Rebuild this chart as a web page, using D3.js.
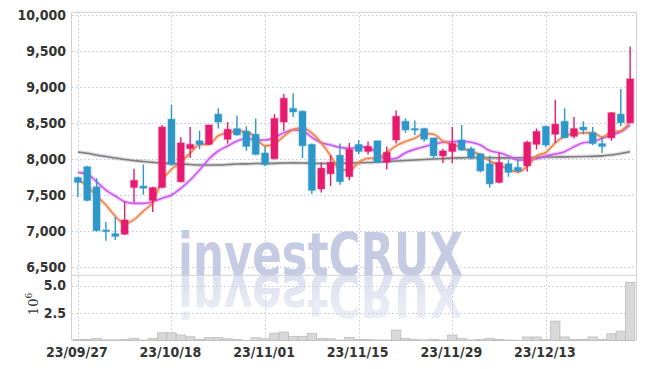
<!DOCTYPE html>
<html>
<head>
<meta charset="utf-8">
<script src="https://cdn.jsdelivr.net/npm/d3@7"></script>
<style>
  html, body { margin: 0; padding: 0; background: #fff; }
  svg { display: block; }
  .tick-label { font-family: "Liberation Sans Narrow", "DejaVu Sans Condensed", "Roboto", sans-serif; font-weight: bold; fill: #333; font-size: 14px; }
</style>
</head>
<body>
<div id="chart"></div>
<script>
const dates = [
  '23/09/27','23/10/04','23/10/05','23/10/06','23/10/10','23/10/11','23/10/12','23/10/13','23/10/16','23/10/17',
  '23/10/18','23/10/19','23/10/20','23/10/23','23/10/24','23/10/25','23/10/26','23/10/27','23/10/30','23/10/31',
  '23/11/01','23/11/02','23/11/03','23/11/06','23/11/07','23/11/08','23/11/09','23/11/10','23/11/13','23/11/14',
  '23/11/15','23/11/16','23/11/17','23/11/20','23/11/21','23/11/22','23/11/23','23/11/24','23/11/27','23/11/28',
  '23/11/29','23/11/30','23/12/01','23/12/04','23/12/05','23/12/06','23/12/07','23/12/08','23/12/11','23/12/12',
  '23/12/13','23/12/14','23/12/15','23/12/18','23/12/19','23/12/20','23/12/21','23/12/22','23/12/26','23/12/27'
];
const tickDates = ['23/09/27','23/10/18','23/11/01','23/11/15','23/11/29','23/12/13'];

const open = [
  7740,7890,7610,7010,6960,6950,7600,7620,7420,7600,
  8550,7680,8140,8250,8200,8620,8270,8420,8380,8340,
  8080,8000,8510,8700,8660,8200,7580,7790,8050,7750,
  8200,8100,8250,7950,8260,8520,8420,8420,8290,8040,
  8100,8260,8140,8070,7930,7670,7930,7880,7900,8200,
  8450,8340,8520,8310,8440,8360,8210,8290,8620,8500
];
const high = [
  7750,7900,7730,7120,7190,7400,7860,7920,7610,8470,
  8750,8300,8440,8390,8470,8700,8510,8600,8450,8560,
  8170,8620,8900,8910,8670,8210,7950,8050,8210,8220,
  8260,8240,8250,8170,8670,8560,8530,8430,8290,8140,
  8440,8470,8170,8070,8040,8080,7980,7990,8250,8420,
  8460,8820,8700,8580,8520,8440,8300,8650,8970,9560
];
const low = [
  7470,7410,6990,6860,6870,6940,7390,7500,7260,7590,
  7900,7670,8010,8130,8190,8420,8210,8320,8110,8050,
  7900,7990,8390,8580,8010,7510,7530,7620,7640,7700,
  8060,8060,7940,7850,8210,8360,8330,8240,8010,7940,
  7940,8110,7990,7810,7600,7660,7750,7800,7820,8130,
  8160,8220,8290,8280,8340,8190,8080,8250,8450,8490
];
const close = [
  7670,7420,7000,7000,6920,7150,7700,7590,7600,8440,
  7920,8220,8200,8200,8470,8510,8410,8330,8170,8060,
  7920,8560,8840,8650,8180,7560,7870,7950,7680,8130,
  8100,8170,7950,8090,8590,8400,8400,8270,8040,8110,
  8210,8120,8020,7830,7650,7950,7810,7830,8230,8380,
  8190,8480,8290,8420,8400,8210,8170,8640,8500,9110
];
// moving averages
const ma5 = [
  7711,7621,7482,7357,7201,7097,7154,7273,7393,7697,
  7852,7954,8077,8196,8202,8319,8358,8383,8377,8295,
  8178,8208,8310,8407,8431,8358,8220,8043,7849,7838,
  7947,8007,8005,8087,8179,8240,8286,8352,8341,8244,
  8206,8151,8100,8059,7968,7915,7853,7815,7894,8039,
  8087,8221,8313,8352,8358,8363,8300,8370,8386,8526
];
const ma20 = [
  7811,7788,7681,7565,7482,7403,7380,7380,7403,7450,
  7496,7589,7704,7843,7996,8107,8176,8246,8281,8260,
  8260,8297,8361,8399,8389,8297,8222,8190,8158,8144,
  8158,8167,8065,7992,8006,8083,8130,8167,8200,8228,
  8236,8241,8228,8190,8111,8083,8038,7982,7982,8000,
  8038,8065,8097,8167,8222,8236,8283,8329,8375,8468
];
const ma60 = [
  8093,8075,8051,8031,8010,7989,7975,7961,7950,7940,
  7933,7926,7919,7912,7912,7912,7919,7926,7929,7933,
  7933,7936,7940,7943,7940,7936,7933,7933,7936,7940,
  7943,7947,7954,7961,7968,7975,7982,7989,7996,8003,
  8010,8012,8014,8014,8014,8012,8012,8014,8017,8019,
  8024,8024,8026,8028,8031,8033,8040,8051,8072,8097
];
// volume, millions of shares
const volume = [
  0.15,0.15,0.24,0.10,0.10,0.15,0.24,0.08,0.24,0.74,
  0.74,0.54,0.38,0.15,0.30,0.30,0.20,0.12,0.06,0.30,
  0.20,0.71,0.80,0.42,0.42,0.69,0.24,0.20,0.09,0.33,
  0.15,0.12,0.09,0.09,0.98,0.24,0.12,0.09,0.15,0.09,
  0.54,0.24,0.09,0.15,0.24,0.15,0.09,0.06,0.36,0.36,
  0.15,1.79,0.36,0.15,0.15,0.36,0.15,0.65,0.89,5.27
];
const priceTicks = [6500, 7000, 7500, 8000, 8500, 9000, 9500, 10000];
const volTicks = [2.5, 5.0];

const W = 645, H = 369;
const plotL = 72, plotR = 636, plotT = 12.3, split = 275.3, plotB = 340.5;
const UP = '#e61b6e', DOWN = '#2e97c9';
const GRID = '#c4c7dc';

const svg = d3.select('#chart').append('svg').attr('width', W).attr('height', H);

const x = d3.scaleBand().domain(dates).range([plotL, plotR]).padding(0.25);
const cx = d => x(d) + x.bandwidth() / 2;
const y = d3.scaleLinear().domain([6380, 10035]).range([split, plotT]);
const yv = d3.scaleLinear().domain([0, 5.92]).range([341, split]);

// ── Grid ────────────────────────────────────────────────────────────────
const grid = svg.append('g').attr('stroke', GRID).attr('stroke-dasharray', '1.5,2.5').attr('stroke-width', 1);
priceTicks.forEach(t => grid.append('line')
  .attr('x1', plotL).attr('x2', plotR).attr('y1', Math.round(y(t)) + 0.5).attr('y2', Math.round(y(t)) + 0.5));
volTicks.forEach(t => grid.append('line')
  .attr('x1', plotL).attr('x2', plotR).attr('y1', Math.round(yv(t)) + 0.5).attr('y2', Math.round(yv(t)) + 0.5));
tickDates.forEach(d => grid.append('line')
  .attr('x1', Math.round(cx(d)) + 0.5).attr('x2', Math.round(cx(d)) + 0.5).attr('y1', plotT).attr('y2', plotB));

// ── Watermark + mirrored reflection (reuses the same text node) ─────────
const defs = svg.append('defs');
const grad = defs.append('linearGradient').attr('id', 'reflGrad')
  .attr('gradientUnits', 'userSpaceOnUse').attr('x1', 0).attr('y1', split).attr('x2', 0).attr('y2', split + 46);
grad.append('stop').attr('offset', '0%').attr('stop-color', '#fff').attr('stop-opacity', 0.6);
grad.append('stop').attr('offset', '100%').attr('stop-color', '#fff').attr('stop-opacity', 0.3);
defs.append('mask').attr('id', 'reflMask').attr('maskUnits', 'userSpaceOnUse')
  .attr('x', 0).attr('y', split).attr('width', W).attr('height', 60)
  .append('rect').attr('x', 0).attr('y', split).attr('width', W).attr('height', 60).attr('fill', 'url(#reflGrad)');

svg.append('text').attr('id', 'wmark')
  .attr('x', 178).attr('y', split).attr('textLength', 285).attr('lengthAdjust', 'spacingAndGlyphs')
  .attr('font-family', '"Liberation Sans Narrow", "DejaVu Sans Condensed", sans-serif')
  .attr('font-weight', 'bold').attr('font-size', 58)
  .attr('fill', '#c6cbe4').text('investCRUX');
svg.append('g').attr('mask', 'url(#reflMask)')
  .append('use').attr('href', '#wmark')
  .attr('transform', `translate(0,${2 * split}) scale(1,-1)`);

// ── Frame ───────────────────────────────────────────────────────────────
const frame = svg.append('g').attr('stroke', '#cfcfd6').attr('stroke-width', 1).attr('fill', 'none');
frame.append('line').attr('x1', plotL - 0.5).attr('x2', plotL - 0.5).attr('y1', plotT).attr('y2', plotB);
frame.append('line').attr('x1', plotR + 0.5).attr('x2', plotR + 0.5).attr('y1', plotT).attr('y2', plotB);
frame.append('line').attr('x1', plotL).attr('x2', plotR).attr('y1', plotT).attr('y2', plotT);
frame.append('line').attr('x1', plotL).attr('x2', plotR).attr('y1', split).attr('y2', split);
frame.append('line').attr('x1', plotL).attr('x2', plotR).attr('y1', plotB).attr('y2', plotB);

// ── Volume ──────────────────────────────────────────────────────────────
svg.append('g').selectAll('rect').data(dates).join('rect')
  .attr('x', d => cx(d) - x.step() / 2)
  .attr('width', x.step())
  .attr('y', (d, i) => yv(volume[i]))
  .attr('height', (d, i) => Math.max(0, plotB - yv(volume[i])))
  .attr('fill', '#d8d8d8').attr('stroke', '#bcbcbc').attr('stroke-width', 0.8);

// ── Moving averages ─────────────────────────────────────────────────────
function drawLine(vals, color, w) {
  const line = d3.line().x((v, i) => cx(dates[i])).y(v => y(v)).curve(d3.curveMonotoneX);
  svg.append('path').datum(vals).attr('d', line).attr('fill', 'none')
    .attr('stroke', color).attr('stroke-opacity', 0.25).attr('stroke-width', w + 2.5).attr('stroke-linejoin', 'round');
  svg.append('path').datum(vals).attr('d', line).attr('fill', 'none')
    .attr('stroke', color).attr('stroke-width', w).attr('stroke-linejoin', 'round');
}
drawLine(ma60, '#7d7d7d', 1.6);
drawLine(ma20, '#cc58ef', 1.6);
drawLine(ma5, '#f0824a', 1.6);

// ── Candles ─────────────────────────────────────────────────────────────
const candles = svg.append('g');
dates.forEach((d, i) => {
  const c = close[i] >= open[i] ? UP : DOWN;
  const xc = cx(d);
  candles.append('line')
    .attr('x1', xc).attr('x2', xc).attr('y1', y(high[i])).attr('y2', y(low[i]))
    .attr('stroke', c).attr('stroke-width', 1.4);
  const yt = y(Math.max(open[i], close[i]));
  const yb = y(Math.min(open[i], close[i]));
  candles.append('rect')
    .attr('x', x(d)).attr('width', x.bandwidth())
    .attr('y', yt).attr('height', Math.max(1.6, yb - yt))
    .attr('fill', c).attr('stroke', c).attr('stroke-opacity', 0.3).attr('stroke-width', 1.5)
    .attr('paint-order', 'stroke');
});

// ── Axis labels ─────────────────────────────────────────────────────────
const fmt = d3.format(',');
svg.append('g').selectAll('text').data(priceTicks).join('text')
  .attr('class', 'tick-label')
  .attr('x', 66).attr('y', d => y(d)).attr('dy', '0.35em')
  .attr('text-anchor', 'end').text(d => fmt(d));
svg.append('g').selectAll('text').data(volTicks).join('text')
  .attr('class', 'tick-label')
  .attr('x', 66).attr('y', d => yv(d)).attr('dy', '0.35em')
  .attr('text-anchor', 'end').text(d => d3.format('.1f')(d));
svg.append('g').selectAll('text').data(tickDates).join('text')
  .attr('class', 'tick-label')
  .attr('x', d => cx(d) - 1).attr('y', 357)
  .attr('text-anchor', 'middle').text(d => d);

const unit = svg.append('text')
  .attr('transform', 'translate(38,304) rotate(-90)')
  .attr('text-anchor', 'middle')
  .attr('font-family', '"DejaVu Serif", "Liberation Serif", serif')
  .attr('font-size', 13).attr('fill', '#333');
unit.append('tspan').text('10');
unit.append('tspan').attr('dy', -6).attr('font-size', 9).text('6');
</script>
</body>
</html>
